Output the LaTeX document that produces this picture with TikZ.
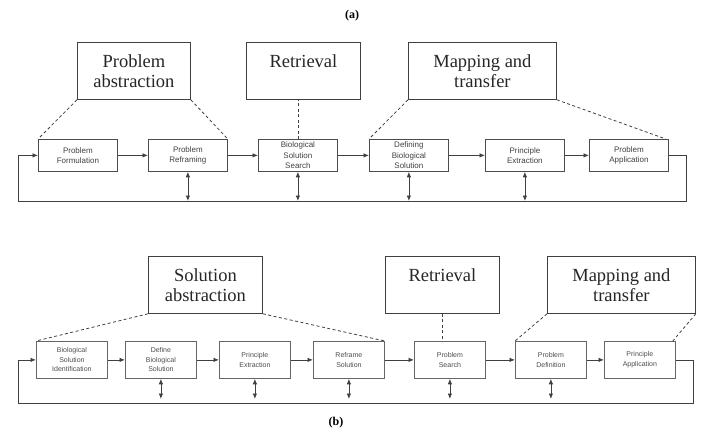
\documentclass[tikz,border=0pt]{standalone}
\usepackage{fontspec}
\setmainfont{Liberation Serif}
\newfontfamily\boxsans{Liberation Sans}
\usetikzlibrary{arrows.meta}
\begin{document}
\begin{tikzpicture}[x=1pt,y=-1pt,
  line width=0.8pt,
  phase/.style={draw=black!75, inner sep=0pt, anchor=north west,
    minimum height=57pt, align=center, text=black!85,
    font=\fontsize{18.5}{20}\selectfont},
  stepa/.style={draw=black!70, inner sep=0pt, anchor=north west,
    minimum width=79pt, minimum height=32pt, align=center, text=black!75,
    font=\boxsans\fontsize{8}{10.5}\selectfont},
  stepb/.style={draw=black!60, inner sep=0pt, anchor=north west,
    minimum width=71pt, minimum height=37pt, align=center, text=black!70,
    font=\boxsans\fontsize{7}{9.5}\selectfont},
  flow/.style={draw=black!75, -{Latex[length=5.5pt,width=4.5pt]}},
  both/.style={draw=black!75, {Latex[length=5.5pt,width=4.5pt]}-{Latex[length=5.5pt,width=4.5pt]}},
  link/.style={draw=black!75, dashed, dash pattern=on 3pt off 2.5pt},
  caption/.style={font=\fontsize{12}{14}\selectfont\bfseries}
]
\useasboundingbox (0,0) rectangle (704,431);

% ---------- (a) ----------
\node[caption] (capa) at (352,16) {(a)};

\node[phase, minimum width=113pt] (pa) at (77,42) {Problem\\abstraction};
\node[phase, minimum width=114pt] (reta) at (246,42) {Retrieval\\\mbox{}};
\node[phase, minimum width=148pt] (mapa) at (408,42) {Mapping and\\transfer};

\node[stepa] (a1) at (38,139)  {Problem\\Formulation};
\node[stepa] (a2) at (148,139) {Problem\\Reframing};
\node[stepa] (a3) at (258,139) {Biological\\Solution\\Search};
\node[stepa] (a4) at (369,139) {Defining\\Biological\\Solution};
\node[stepa] (a5) at (485,139) {Principle\\Extraction};
\node[stepa] (a6) at (589,139) {Problem\\Application};

\draw[flow] (a1) -- (a2);
\draw[flow] (a2) -- (a3);
\draw[flow] (a3) -- (a4);
\draw[flow] (a4) -- (a5);
\draw[flow] (a5) -- (a6);

\coordinate (aR) at (686,201);
\coordinate (aL) at (18,201);
\draw[flow] (a6.east) -| (aR) -- (aL) |- (a1.west);

\draw[both] (a2.south) -- (a2.south |- aR);
\draw[both] (a3.south) -- (a3.south |- aR);
\draw[both] (a4.south) -- (a4.south |- aR);
\draw[both] (a5.south) -- (a5.south |- aR);

\draw[link] (pa.south west) -- (a1.north west);
\draw[link] (pa.south east) -- (a2.north east);
\draw[link] (a3.north) -- (a3.north |- reta.south);
\draw[link] (mapa.south west) -- (a4.north west);
\draw[link] (mapa.south east) -- ([xshift=-3pt]a6.north east);

% ---------- (b) ----------
\node[caption] (capb) at (336,423) {(b)};

\node[phase, minimum width=114pt] (sb) at (148,256) {Solution\\abstraction};
\node[phase, minimum width=114pt] (retb) at (385,256) {Retrieval\\\mbox{}};
\node[phase, minimum width=148pt] (mapb) at (547,256) {Mapping and\\transfer};

\node[stepb] (b1) at (36,341)  {Biological\\Solution\\Identification};
\node[stepb] (b2) at (125,341) {Define\\Biological\\Solution};
\node[stepb] (b3) at (219,341) {Principle\\Extraction};
\node[stepb] (b4) at (313,341) {Reframe\\Solution};
\node[stepb] (b5) at (414,341) {Problem\\Search};
\node[stepb] (b6) at (515,341) {Problem\\Definition};
\node[stepb] (b7) at (604,341) {Principle\\Application};

\draw[flow] (b1) -- (b2);
\draw[flow] (b2) -- (b3);
\draw[flow] (b3) -- (b4);
\draw[flow] (b4) -- (b5);
\draw[flow] (b5) -- (b6);
\draw[flow] (b6) -- (b7);

\coordinate (bR) at (693,403);
\coordinate (bL) at (18,403);
\draw[flow] (b7.east) -| (bR) -- (bL) |- (b1.west);

% the two-headed arrows stop just short of the return line
\draw[both] (b2.south) -- ([yshift=4pt]b2.south |- bR);
\draw[both] (b3.south) -- ([yshift=4pt]b3.south |- bR);
\draw[both] (b4.south) -- ([yshift=4pt]b4.south |- bR);
\draw[both] (b5.south) -- ([yshift=4pt]b5.south |- bR);
\draw[both] (b6.south) -- ([yshift=4pt]b6.south |- bR);

\draw[link] (sb.south west) -- (b1.north west);
\draw[link] (sb.south east) -- (b4.north east);
\draw[link] (retb.south) -- (retb.south |- b5.north);
\draw[link] (mapb.south west) -- (b6.north west);
\draw[link] (mapb.south east) -- ([xshift=-3pt]b7.north east);
\end{tikzpicture}
\end{document}
